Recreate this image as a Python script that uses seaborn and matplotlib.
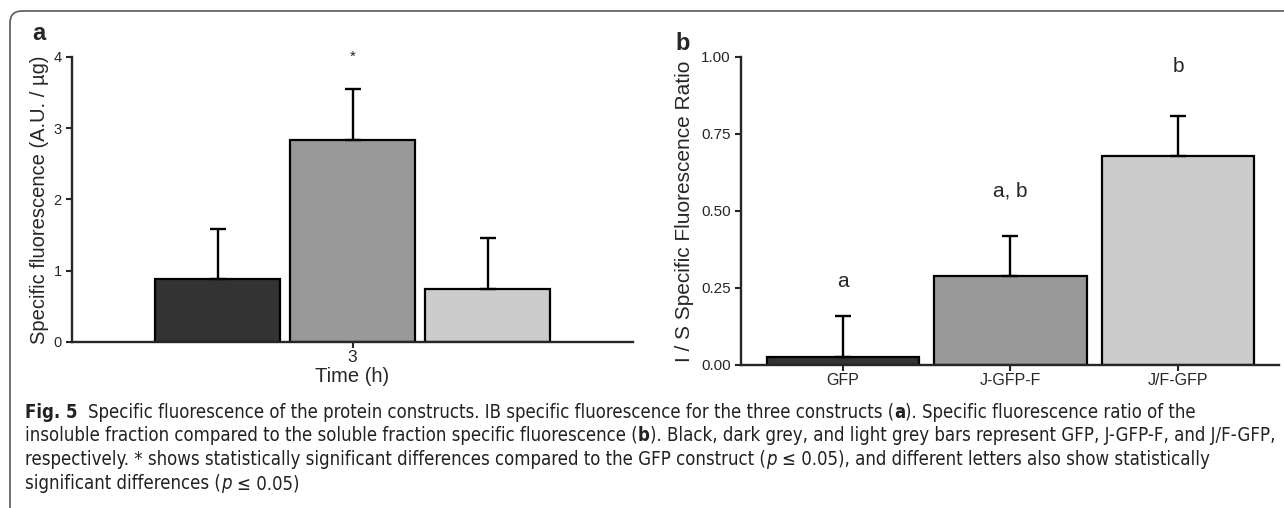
import matplotlib
matplotlib.use("Agg")
import matplotlib.pyplot as plt
from matplotlib import font_manager
from matplotlib.patches import FancyBboxPatch
from matplotlib.transforms import IdentityTransform
import seaborn as sns
import pandas as pd

### data
constructs = ["GFP", "J-GFP-F", "J/F-GFP"]
bar_colors = ["#333333", "#999999", "#cccccc"]

# panel a: IB specific fluorescence at 3 h
time_a = ["3", "3", "3"]
fluo_a = [0.88, 2.83, 0.75]
err_a = [0.71, 0.72, 0.71]

# panel b: insoluble / soluble ratio
ratio_b = [0.025, 0.29, 0.68]
err_b = [0.135, 0.13, 0.13]
letters_b = ["a", "a, b", "b"]
letters_y = [0.27, 0.565, 0.97]

caption = [
    [("Fig. 5", "bold", 0), ("Specific fluorescence of the protein constructs. IB specific fluorescence for the three constructs (", "normal", 2),
     ("a", "bold", 0), ("). Specific fluorescence ratio of the", "normal", 0)],
    [("insoluble fraction compared to the soluble fraction specific fluorescence (", "normal", 0), ("b", "bold", 0),
     ("). Black, dark grey, and light grey bars represent GFP, J-GFP-F, and J/F-GFP,", "normal", 0)],
    [("respectively. * shows statistically significant differences compared to the GFP construct (", "normal", 0), ("p", "italic", 0),
     ("≤ 0.05), and different letters also show statistically", "normal", 1)],
    [("significant differences (", "normal", 0), ("p", "italic", 0), ("≤ 0.05)", "normal", 1)],
]


def first_font(names):
    # pick the first family that is really installed (Arial-like for the plots)
    for n in names:
        try:
            font_manager.findfont(font_manager.FontProperties(family=n), fallback_to_default=False)
            return n
        except ValueError:
            pass
    return "DejaVu Sans"


sns.set_style("ticks")
plot_font = first_font(["Liberation Sans", "Arimo", "Roboto", "Inter"])
plt.rcParams['font.family'] = [plot_font, 'DejaVu Sans']
cap_family = ['DejaVu Sans']

fig = plt.figure(figsize=(12.84, 5.08), dpi=100)

# outer frame
fig.patches.append(FancyBboxPatch((10, -20), 1320, 517, boxstyle="round,pad=0,rounding_size=12",
                                  transform=IdentityTransform(), fill=False, edgecolor="#666666", linewidth=1.3))

### panel a
ax_a = fig.add_axes([0.0561, 0.3268, 0.4369, 0.561])
df_a = pd.DataFrame({"time": time_a, "construct": constructs, "value": fluo_a})
sns.barplot(data=df_a, x="time", y="value", hue="construct", hue_order=constructs, palette=bar_colors,
            width=0.722, gap=0.074, edgecolor="black", linewidth=1.6, legend=False, errorbar=None, ax=ax_a)
bars = sorted(ax_a.patches, key=lambda p: p.get_x())
xs = [p.get_x() + p.get_width() / 2 for p in bars]
ax_a.errorbar(xs, fluo_a, yerr=[[0] * 3, err_a], fmt="none", ecolor="black", elinewidth=1.7,
              capsize=6, capthick=1.7, zorder=1)
ax_a.text(xs[1], 4.0, "*", ha="center", va="center", fontsize=11)
ax_a.set_xlim(-0.5, 0.5)
ax_a.set_ylim(0, 4)
ax_a.set_yticks([0, 1, 2, 3, 4])
ax_a.set_xlabel("Time (h)", fontsize=14.5, labelpad=1)
ax_a.set_ylabel("Specific fluorescence (A.U. / µg)", fontsize=14.5, labelpad=3)
ax_a.tick_params(axis="y", labelsize=10.5, width=1.5, length=4)
ax_a.tick_params(axis="x", labelsize=12.5, width=1.5, length=4, pad=2)
sns.despine(ax=ax_a)
for s in ["left", "bottom"]:
    ax_a.spines[s].set_linewidth(1.7)

### panel b
ax_b = fig.add_axes([0.5771, 0.2815, 0.419, 0.6063])
df_b = pd.DataFrame({"construct": constructs, "ratio": ratio_b})
sns.barplot(data=df_b, x="construct", y="ratio", hue="construct", hue_order=constructs, palette=bar_colors,
            width=0.91, edgecolor="black", linewidth=1.6, legend=False, errorbar=None, ax=ax_b)
bars_b = sorted(ax_b.patches, key=lambda p: p.get_x())
xs_b = [p.get_x() + p.get_width() / 2 for p in bars_b]
ax_b.errorbar(xs_b, ratio_b, yerr=[[0] * 3, err_b], fmt="none", ecolor="black", elinewidth=1.7,
              capsize=5.5, capthick=1.7, zorder=1)
for x, lab, ly in zip(xs_b, letters_b, letters_y):
    ax_b.text(x, ly, lab, ha="center", va="center", fontsize=15)
ax_b.set_xlim(-0.609, 2.603)
ax_b.set_ylim(0, 1)
ax_b.set_yticks([0, 0.25, 0.5, 0.75, 1.0])
ax_b.set_yticklabels(["0.00", "0.25", "0.50", "0.75", "1.00"])
ax_b.set_xlabel("")
ax_b.set_ylabel("I / S Specific Fluorescence Ratio", fontsize=15, labelpad=5)
ax_b.tick_params(axis="y", labelsize=11, width=1.5, length=4)
ax_b.tick_params(axis="x", labelsize=11.5, width=1.5, length=4, pad=2)
sns.despine(ax=ax_b)
for s in ["left", "bottom"]:
    ax_b.spines[s].set_linewidth(1.7)

# panel letters (pixel positions)
fig.text(39, 508 - 33, "a", transform=IdentityTransform(), fontsize=17, fontweight="bold", ha="center", va="center")
fig.text(683, 508 - 44, "b", transform=IdentityTransform(), fontsize=17, fontweight="bold", ha="center", va="center")

### caption, drawn piece by piece in pixel coordinates
renderer = fig.canvas.get_renderer()
cap_kw = dict(family=cap_family, stretch="condensed")


def text_width(s, size, weight="normal", style="normal"):
    t = fig.text(0, 0, s, fontsize=size, fontweight=weight, fontstyle=style, **cap_kw)
    w = t.get_window_extent(renderer).width
    t.remove()
    return w


def line_width(segs, size):
    sp = text_width("x x", size) - text_width("xx", size)
    w = 0
    for txt, kind, gap in segs:
        w += gap * sp + text_width(txt, size, "bold" if kind == "bold" else "normal",
                                   "italic" if kind == "italic" else "normal")
    return w


x0 = 25
cap_size = 10 * (1278 - x0) / line_width(caption[1], 10)
space_w = text_width("x x", cap_size) - text_width("xx", cap_size)
baselines = [418, 441, 465, 489]
for segs, b in zip(caption, baselines):
    x = x0
    for txt, kind, gap in segs:
        x += gap * space_w
        t = fig.text(x, 508 - b, txt, transform=IdentityTransform(), fontsize=cap_size,
                     fontweight="bold" if kind == "bold" else "normal",
                     fontstyle="italic" if kind == "italic" else "normal",
                     va="baseline", color="#222222", **cap_kw)
        x = t.get_window_extent(renderer).x1

fig.savefig("out.png", dpi=100)
